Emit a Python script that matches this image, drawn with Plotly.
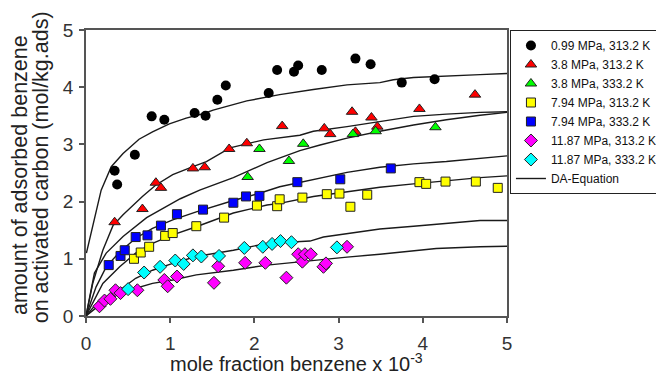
import plotly.graph_objects as go

# ---------------- data (x = mole fraction benzene x 1e-3, y = mol/kg.ads) ----------------
black_x = [0.34, 0.37, 0.58, 0.78, 0.93, 1.29, 1.42, 1.56, 1.66, 2.17, 2.27, 2.47, 2.52, 2.80, 3.20, 3.38, 3.75, 4.14]
black_y = [2.54, 2.30, 2.82, 3.49, 3.43, 3.55, 3.50, 3.78, 4.03, 3.90, 4.30, 4.27, 4.38, 4.30, 4.50, 4.40, 4.08, 4.14]

red_x = [0.34, 0.67, 0.83, 0.89, 1.27, 1.41, 1.70, 1.91, 2.33, 2.83, 2.90, 3.16, 3.20, 3.39, 3.46, 3.96, 4.62]
red_y = [1.64, 1.87, 2.33, 2.24, 2.58, 2.60, 2.92, 3.02, 3.32, 3.28, 3.18, 3.57, 3.22, 3.47, 3.31, 3.62, 3.87]

green_x = [1.92, 2.06, 2.41, 2.58, 3.17, 3.44, 4.15]
green_y = [2.43, 2.92, 2.71, 3.01, 3.18, 3.23, 3.30]

yellow_x = [0.57, 0.65, 0.75, 0.94, 1.03, 1.31, 1.64, 2.03, 2.27, 2.30, 2.57, 2.86, 3.01, 3.14, 3.34, 3.96, 4.04, 4.27, 4.63, 4.89]
yellow_y = [1.00, 1.11, 1.21, 1.40, 1.45, 1.57, 1.72, 1.93, 1.92, 2.04, 2.07, 2.13, 2.14, 1.91, 2.12, 2.34, 2.31, 2.35, 2.35, 2.24]

blue_x = [0.27, 0.41, 0.46, 0.59, 0.73, 0.89, 1.08, 1.39, 1.75, 1.90, 2.06, 2.51, 3.02, 3.62]
blue_y = [0.89, 1.05, 1.15, 1.38, 1.41, 1.58, 1.78, 1.86, 1.98, 2.09, 2.10, 2.34, 2.39, 2.58]

magenta_x = [0.16, 0.22, 0.29, 0.35, 0.41, 0.61, 0.93, 0.97, 1.08, 1.52, 1.57, 1.89, 2.13, 2.38, 2.52, 2.57, 2.60, 2.67, 2.82, 2.85, 3.10]
magenta_y = [0.17, 0.27, 0.30, 0.45, 0.40, 0.45, 0.63, 0.52, 0.69, 0.58, 0.87, 0.93, 0.93, 0.67, 1.08, 0.95, 1.08, 1.08, 0.86, 0.92, 1.21]

cyan_x = [0.50, 0.69, 0.88, 1.06, 1.16, 1.27, 1.37, 1.58, 1.88, 2.10, 2.21, 2.31, 2.44, 2.98]
cyan_y = [0.47, 0.76, 0.86, 0.97, 0.91, 1.06, 1.04, 1.05, 1.19, 1.21, 1.26, 1.31, 1.29, 1.20]

# DA-equation curves
da1_x = [0.005, 0.12, 0.18, 0.30, 0.44, 0.63, 0.79, 0.99, 1.19, 1.40, 1.51, 1.91, 2.30, 2.70, 3.10, 3.49, 3.65, 3.89, 4.28, 4.68, 5.0]
da1_y = [1.10, 1.85, 2.20, 2.61, 2.84, 3.09, 3.22, 3.36, 3.46, 3.54, 3.60, 3.76, 3.87, 3.96, 4.04, 4.08, 4.13, 4.17, 4.20, 4.22, 4.24]

da2_x = [0.0, 0.08, 0.20, 0.32, 0.44, 0.51, 0.67, 0.83, 1.03, 1.27, 1.43, 1.71, 2.11, 2.54, 2.70, 3.10, 3.49, 3.89, 4.28, 4.68, 5.0]
da2_y = [0.0, 0.57, 1.15, 1.58, 1.77, 1.87, 2.09, 2.29, 2.47, 2.61, 2.70, 2.94, 3.08, 3.16, 3.23, 3.31, 3.40, 3.49, 3.53, 3.56, 3.57]

da3_x = [0.0, 0.10, 0.24, 0.44, 0.72, 1.12, 1.35, 1.75, 2.15, 2.54, 2.78, 3.10, 3.49, 3.89, 4.28, 4.68, 5.0]
da3_y = [0.0, 0.75, 1.10, 1.39, 1.72, 2.05, 2.20, 2.42, 2.68, 2.89, 2.99, 3.11, 3.23, 3.34, 3.43, 3.51, 3.56]

da4_x = [0.0, 0.12, 0.24, 0.40, 0.59, 0.79, 1.03, 1.31, 1.75, 2.07, 2.30, 2.70, 3.10, 3.49, 3.89, 4.28, 4.68, 5.0]
da4_y = [0.0, 0.51, 0.86, 1.12, 1.36, 1.53, 1.68, 1.82, 2.02, 2.15, 2.26, 2.39, 2.51, 2.60, 2.66, 2.70, 2.76, 2.80]

da5_x = [0.0, 0.20, 0.40, 0.59, 0.79, 1.03, 1.31, 1.75, 2.15, 2.30, 2.70, 3.10, 3.49, 3.89, 4.28, 4.68, 5.0]
da5_y = [0.0, 0.57, 0.86, 1.10, 1.27, 1.42, 1.56, 1.80, 1.94, 1.97, 2.09, 2.17, 2.25, 2.31, 2.37, 2.42, 2.45]

da6_x = [0.0, 0.16, 0.40, 0.59, 0.79, 1.03, 1.31, 1.75, 2.15, 2.46, 2.66, 2.82, 3.49, 3.89, 4.28, 4.68, 5.0]
da6_y = [0.0, 0.28, 0.45, 0.66, 0.80, 0.92, 1.04, 1.15, 1.27, 1.30, 1.31, 1.38, 1.52, 1.57, 1.62, 1.67, 1.67]

da7_x = [0.0, 0.16, 0.32, 0.51, 0.79, 1.03, 1.31, 1.75, 2.15, 2.54, 2.70, 3.10, 3.49, 3.89, 4.16, 4.68, 5.0]
da7_y = [0.0, 0.19, 0.34, 0.45, 0.57, 0.63, 0.72, 0.80, 0.89, 0.95, 0.98, 1.03, 1.08, 1.14, 1.18, 1.21, 1.22]

x_ticks = [0, 1, 2, 3, 4, 5]
y_ticks = [0, 1, 2, 3, 4, 5]

FONT = "Arial, Liberation Sans, sans-serif"

fig = go.Figure()

# DA curves first (underneath markers)
curves = [(da1_x, da1_y), (da2_x, da2_y), (da3_x, da3_y), (da4_x, da4_y),
          (da5_x, da5_y), (da6_x, da6_y), (da7_x, da7_y)]
for i, (cx, cy) in enumerate(curves):
    fig.add_trace(go.Scatter(
        x=cx, y=cy, mode="lines", name="DA-Equation",
        line=dict(color="#1a1a1a", width=1.4),
        showlegend=(i == 0), legendrank=1100, hoverinfo="skip"))

series = [
    ("0.99 MPa, 313.2 K", black_x, black_y, "circle", "#000000", 10, 0),
    ("3.8 MPa, 313.2 K", red_x, red_y, "triangle-up", "#ff0000", 10, 1),
    ("3.8 MPa, 333.2 K", green_x, green_y, "triangle-up", "#00ff00", 10, 1),
    ("7.94 MPa, 313.2 K", yellow_x, yellow_y, "square", "#ffff00", 9, 1),
    ("7.94 MPa, 333.2 K", blue_x, blue_y, "square", "#0000ff", 9, 1),
    ("11.87 MPa, 313.2 K", magenta_x, magenta_y, "diamond", "#ff00ff", 10, 1),
    ("11.87 MPa, 333.2 K", cyan_x, cyan_y, "diamond", "#00ffff", 10, 1),
]
for k, (nm, sx, sy, sym, col, sz, lw) in enumerate(series):
    fig.add_trace(go.Scatter(
        x=sx, y=sy, mode="markers", name=nm, legendrank=1000 + k,
        marker=dict(symbol=sym, color=col, size=sz,
                    line=dict(color="#222222", width=lw))))

axis_common = dict(
    showline=True, linecolor="#555555", linewidth=1.5, mirror=True,
    ticks="outside", ticklen=5, tickwidth=1.5, tickcolor="#555555",
    showgrid=False, zeroline=False,
    tickfont=dict(family=FONT, size=19, color="#333333"),
)

fig.update_xaxes(range=[0, 5], tickvals=x_ticks, ticktext=[str(v) for v in x_ticks],
                 ticklabelstandoff=4, **axis_common)
fig.update_yaxes(range=[0, 5], tickvals=y_ticks, ticktext=[str(v) for v in y_ticks],
                 ticklabelstandoff=2, **axis_common)

fig.update_layout(
    width=656, height=376,
    margin=dict(l=86, r=149, t=30, b=60, autoexpand=False),
    paper_bgcolor="white", plot_bgcolor="white",
    font=dict(family=FONT, color="#222222"),
    legend=dict(x=1.007, y=1.0, xanchor="left", yanchor="top",
                bordercolor="#222222", borderwidth=1, bgcolor="white",
                font=dict(family=FONT, size=12, color="#111111"),
                tracegroupgap=0, itemwidth=30),
    annotations=[
        dict(text="mole fraction benzene x 10<sup>-3</sup>", xref="paper", yref="paper",
             x=0.5, y=0, yshift=-59.5, xanchor="center", yanchor="bottom", showarrow=False,
             borderpad=0, font=dict(family=FONT, size=20, color="#222222")),
        dict(text="amount of adsorbed benzene", xref="paper", yref="paper",
             x=0, y=0.493, xshift=-66, xanchor="center", yanchor="middle", textangle=-90,
             showarrow=False, font=dict(family=FONT, size=21.5, color="#222222")),
        dict(text="on activated carbon (mol/kg.ads)", xref="paper", yref="paper",
             x=0, y=0.52, xshift=-45, xanchor="center", yanchor="middle", textangle=-90,
             showarrow=False, font=dict(family=FONT, size=21.5, color="#222222")),
    ],
)

fig.write_html("out.html")
